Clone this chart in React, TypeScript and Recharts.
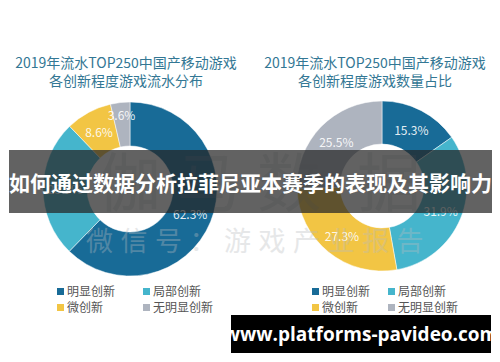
import { PieChart, Pie, Cell } from "recharts";

const categories = ["明显创新", "局部创新", "微创新", "无明显创新"];
const revenueShare = [62.3, 25.5, 8.6, 3.6];
const countShare = [15.3, 31.9, 27.3, 25.5];
const colors = ["#186b97", "#45b5cc", "#f2c544", "#aeb4bf"];

const titleLeft = ["2019年流水TOP250中国产移动游戏", "各创新程度游戏流水分布"];
const titleRight = ["2019年流水TOP250中国产移动游戏", "各创新程度游戏数量占比"];
const banner = "如何通过数据分析拉菲尼亚本赛季的表现及其影响力";
const site = "www.platforms-pavideo.com";
const watermarkBig = ["伽", "马", "数", "据"];
const watermarkSmall = ["微", "信", "号", "：", "游", "戏", "产", "业", "报", "告"];

const leftData = categories.map((name, i) => ({ name, value: revenueShare[i] }));
const rightData = categories.map((name, i) => ({ name, value: countShare[i] }));

const FONT = "'Noto Sans CJK SC', 'Noto Sans', sans-serif";
const RAD = Math.PI / 180;

const renderLabel = (props: any) => {
  const { cx, cy, midAngle, innerRadius, outerRadius, value } = props;
  // thin slices get their label pushed towards the rim
  const r = value < 5 ? outerRadius - 12 : (innerRadius + outerRadius) / 2;
  const x = cx + r * Math.cos(-midAngle * RAD);
  const y = cy + r * Math.sin(-midAngle * RAD);
  return (
    <text
      x={x}
      y={y}
      fill="#ffffff"
      fillOpacity={0.9}
      fontSize={12}
      fontFamily={FONT}
      textAnchor="middle"
      dominantBaseline="central"
    >
      {value.toFixed(1)}%
    </text>
  );
};

function Title({ lines, cx }: { lines: string[]; cx: number }) {
  return (
    <>
      {lines.map((t, i) => (
        <div
          key={i}
          style={{
            position: "absolute",
            left: cx - 130,
            width: 260,
            top: 52 + i * 18,
            textAlign: "center",
            fontSize: 14,
            lineHeight: "20px",
            color: "#337794",
            fontFamily: FONT,
          }}
        >
          {t}
        </div>
      ))}
    </>
  );
}

function Legend({ x1, x2 }: { x1: number; x2: number }) {
  return (
    <>
      {categories.map((c, i) => (
        <div
          key={c}
          style={{
            position: "absolute",
            left: i % 2 === 0 ? x1 : x2,
            top: i < 2 ? 283 : 299,
            display: "flex",
            alignItems: "center",
            fontSize: 12,
            lineHeight: "16px",
            color: "#555",
            fontFamily: FONT,
          }}
        >
          <span
            style={{
              width: 7,
              height: 7,
              background: colors[i],
              marginRight: 3,
              display: "inline-block",
            }}
          />
          {c}
        </div>
      ))}
    </>
  );
}

export default function App() {
  return (
    <div
      style={{
        position: "absolute",
        left: 0,
        top: 0,
        width: 500,
        height: 362,
        background: "#fff",
        overflow: "hidden",
      }}
    >
      <Title lines={titleLeft} cx={126} />
      <Title lines={titleRight} cx={375} />
      <div style={{ position: "absolute", left: 0, top: 0 }}>
        <PieChart width={500} height={362}>
          <Pie
            data={leftData}
            dataKey="value"
            cx={125}
            cy={184}
            innerRadius={43}
            outerRadius={87}
            startAngle={90}
            endAngle={-270}
            stroke="#fff"
            strokeWidth={0.5}
            label={renderLabel}
            labelLine={false}
            isAnimationActive={false}
          >
            {leftData.map((d, i) => (
              <Cell key={d.name} fill={colors[i]} />
            ))}
          </Pie>
          <Pie
            data={rightData}
            dataKey="value"
            cx={377}
            cy={181}
            innerRadius={42}
            outerRadius={85}
            startAngle={90}
            endAngle={-270}
            stroke="#fff"
            strokeWidth={0.5}
            label={renderLabel}
            labelLine={false}
            isAnimationActive={false}
          >
            {rightData.map((d, i) => (
              <Cell key={d.name} fill={colors[i]} />
            ))}
          </Pie>
        </PieChart>
      </div>
      <Legend x1={57} x2={143} />
      <Legend x1={312} x2={388} />
      {watermarkBig.map((ch, i) => (
        <div
          key={ch}
          style={{
            position: "absolute",
            left: [97, 177, 257, 357][i],
            top: 138,
            fontSize: 64,
            lineHeight: "80px",
            color: "#9aa0a6",
            opacity: 0.2,
            fontFamily: FONT,
          }}
        >
          {ch}
        </div>
      ))}
      {watermarkSmall.map((ch, i) => (
        <div
          key={i}
          style={{
            position: "absolute",
            left: 86 + i * 34.5,
            top: 224,
            fontSize: 27,
            lineHeight: "32px",
            color: "#b8bcc0",
            opacity: 0.35,
            fontFamily: FONT,
          }}
        >
          {ch}
        </div>
      ))}
      <div
        style={{
          position: "absolute",
          left: 9,
          top: 150,
          width: 483,
          height: 63,
          background: "rgba(38,38,38,0.72)",
          color: "#fff",
          fontSize: 21,
          fontWeight: 700,
          fontFamily: FONT,
          display: "flex",
          alignItems: "center",
          justifyContent: "center",
          whiteSpace: "nowrap",
        }}
      >
        {banner}
      </div>
      <div
        style={{
          position: "absolute",
          left: 231,
          top: 315,
          width: 260,
          height: 38,
          background: "#000",
          color: "#fff",
          fontSize: 19,
          fontWeight: 700,
          fontFamily: "'Open Sans', sans-serif",
          display: "flex",
          alignItems: "center",
          justifyContent: "center",
          whiteSpace: "nowrap",
        }}
      >
        {site}
      </div>
    </div>
  );
}
